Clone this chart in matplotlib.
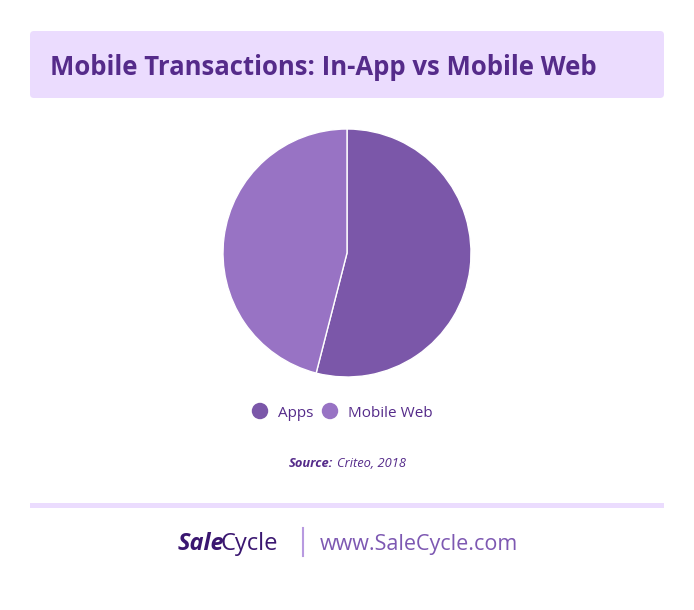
import matplotlib
matplotlib.use("Agg")
import matplotlib.pyplot as plt
from matplotlib.patches import FancyBboxPatch, Rectangle

# data
labels = ["Apps", "Mobile Web"]
shares = [54, 46]
colors = ["#7B57A9", "#9873C4"]

title = "Mobile Transactions: In-App vs Mobile Web"
source_name = "Criteo, 2018"

W, H = 694, 610
TEXT = "#552B8A"

plt.rcParams['font.family'] = ['Open Sans', 'DejaVu Sans']

fig = plt.figure(figsize=(W / 100, H / 100), dpi=100)
fig.patch.set_facecolor("white")

# background axes in pixel coordinates
bg = fig.add_axes([0, 0, 1, 1], zorder=0)
bg.set_xlim(0, W)
bg.set_ylim(H, 0)
bg.axis("off")

# title box
box = FancyBboxPatch((30, 31), 634, 67, boxstyle="round,pad=0,rounding_size=4",
                     facecolor="#EBDCFE", edgecolor="none")
bg.add_patch(box)
bg.text(50, 75, title, fontsize=18.5, fontweight="bold", color=TEXT,
        ha="left", va="baseline")

# legend (manual)
leg_x = [260, 330]
for lab, col, x in zip(labels, colors, leg_x):
    bg.scatter([x], [411], s=140, color=col, edgecolors="none")
    bg.text(x + 18, 417, lab, fontsize=11, color=TEXT, ha="left", va="baseline")

# source
bg.text(333, 467, "Source:", fontsize=9.3, fontweight="bold", fontstyle="italic",
        color=TEXT, ha="right", va="baseline")
bg.text(337, 467, source_name, fontsize=9.3, fontstyle="italic",
        color=TEXT, ha="left", va="baseline")

# footer line
bg.add_patch(Rectangle((30, 503), 634, 5, facecolor="#EBDCFE", edgecolor="none"))

# logo
sale = bg.text(178, 550, "Sale", fontsize=17, fontweight="bold", fontstyle="italic",
               color="#3A1670", ha="left", va="baseline")
bg.annotate("Cycle", xy=(1, 0), xycoords=sale, xytext=(-3, 0),
            textcoords="offset points", fontsize=17, color="#3A1670",
            ha="left", va="bottom")
bg.plot([303, 303], [528, 556], color="#B89AE0", lw=1.5)
bg.text(320, 550, "www.SaleCycle.com", fontsize=15.5, color="#7D58B2",
        ha="left", va="baseline")

# pie
cx, cy, r = 347, 253, 124
pax = fig.add_axes([(cx - r) / W, (H - cy - r) / H, 2 * r / W, 2 * r / H], zorder=1)
pax.pie(shares, colors=colors, startangle=90, counterclock=False,
        wedgeprops=dict(edgecolor="white", linewidth=1))
pax.set_xlim(-1, 1)
pax.set_ylim(-1, 1)
pax.set_aspect("equal")

fig.savefig("out.png", dpi=100, facecolor="white")
